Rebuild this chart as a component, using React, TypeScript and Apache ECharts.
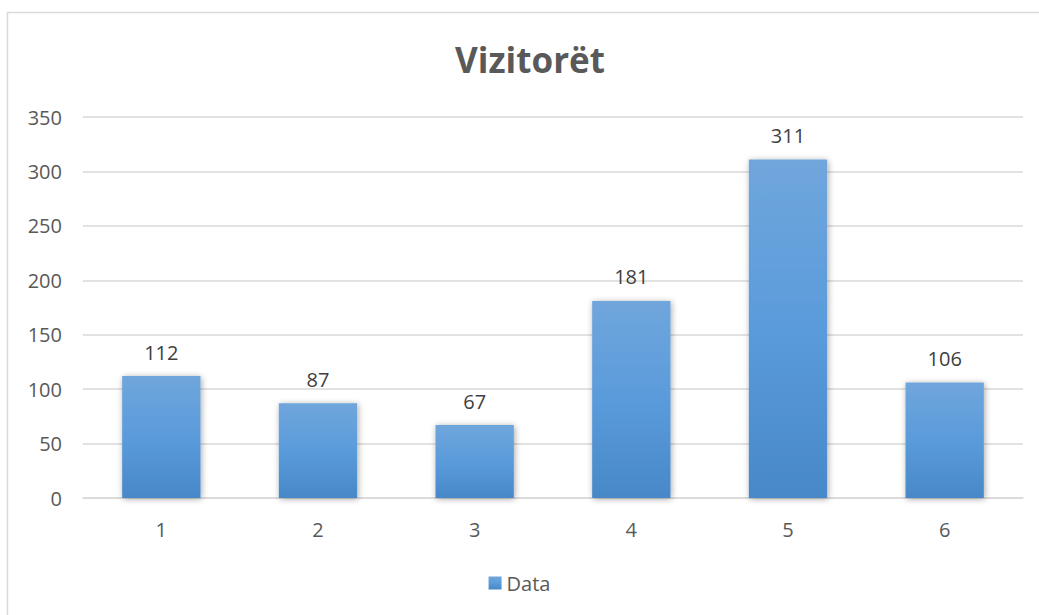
import React, { useEffect, useRef } from "react";
import * as echarts from "echarts";

const categories = ["1", "2", "3", "4", "5", "6"];
const values = [112, 87, 67, 181, 311, 106];
const seriesName = "Data";
const titleText = "Vizitorët";

export default function App() {
  const ref = useRef<HTMLDivElement>(null);
  useEffect(() => {
    document.body.style.margin = "0";
    const chart = echarts.init(ref.current!, undefined, { renderer: "svg" });
    const font = "'Open Sans', 'Noto Sans', sans-serif";
    chart.setOption({
      animation: false,
      backgroundColor: "#fff",
      textStyle: { fontFamily: font },
      title: {
        text: titleText,
        left: 525,
        textAlign: "center",
        top: 37,
        textStyle: { fontSize: 35, fontWeight: "bold", color: "#595959", fontFamily: font },
      },
      graphic: [
        {
          type: "rect",
          shape: { x: 7.5, y: 12.5, width: 1100, height: 700 },
          style: { fill: "none", stroke: "#D9D9D9", lineWidth: 1.5 },
          silent: true,
          z: 100,
        },
      ],
      legend: {
        bottom: 17,
        left: "center",
        itemWidth: 13,
        itemHeight: 13,
        itemGap: 8,
        icon: "rect",
        textStyle: { fontSize: 20, color: "#595959", fontFamily: font },
        data: [seriesName],
      },
      grid: { left: 83, right: 16, top: 117, bottom: 117, containLabel: false },
      xAxis: {
        type: "category",
        data: categories,
        axisLine: { lineStyle: { color: "#D9D9D9", width: 1.5 } },
        axisTick: { show: false },
        axisLabel: { fontSize: 20, color: "#595959", margin: 21, fontFamily: font },
      },
      yAxis: {
        type: "value",
        min: 0,
        max: 350,
        interval: 50,
        axisLine: { show: false },
        axisTick: { show: false },
        axisLabel: { fontSize: 20, color: "#595959", margin: 21, fontFamily: font },
        splitLine: { lineStyle: { color: "#D9D9D9", width: 1.5 } },
      },
      series: [
        {
          name: seriesName,
          type: "bar",
          data: values,
          barWidth: "50%",
          itemStyle: {
            color: new echarts.graphic.LinearGradient(0, 0, 0, 1, [
              { offset: 0, color: "#70A6DC" },
              { offset: 0.5, color: "#5A9BDB" },
              { offset: 1, color: "#4888C8" },
            ]),
            shadowColor: "rgba(0,0,0,0.35)",
            shadowBlur: 6,
            shadowOffsetX: 1,
            shadowOffsetY: 1,
          },
          label: {
            show: true,
            position: "top",
            distance: 14,
            fontSize: 20,
            color: "#404040",
            fontFamily: font,
          },
        },
      ],
    });
    return () => chart.dispose();
  }, []);
  return <div ref={ref} style={{ width: 1039, height: 615 }} />;
}
